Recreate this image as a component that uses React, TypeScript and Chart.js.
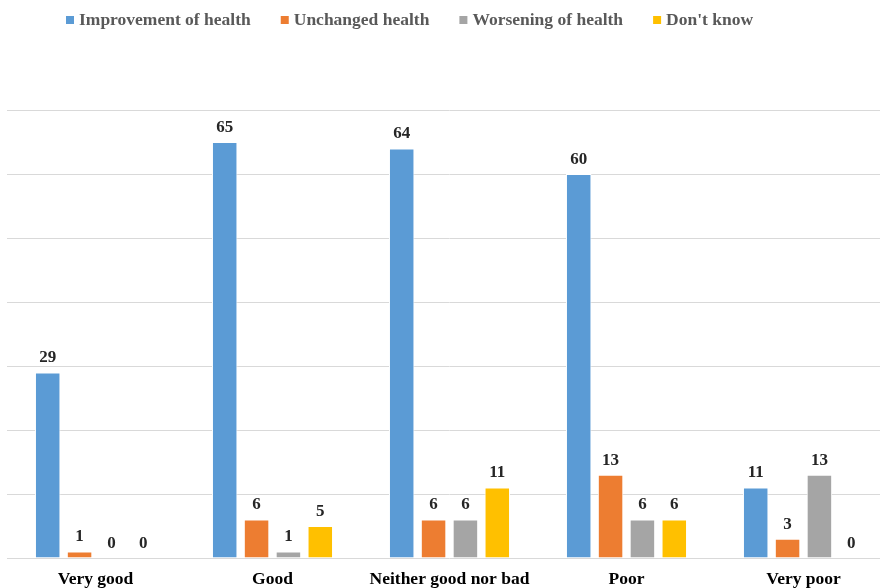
import React, { useEffect, useRef } from "react";
import { Chart, registerables } from "chart.js";

Chart.register(...registerables);

const categories = ["Very good", "Good", "Neither good nor bad", "Poor", "Very poor"];
const seriesNames = ["Improvement of health", "Unchanged health", "Worsening of health", "Don't know"];
const improvement = [29, 65, 64, 60, 11];
const unchanged = [1, 6, 6, 13, 3];
const worsening = [0, 1, 6, 6, 13];
const dontKnow = [0, 5, 11, 6, 0];
const colors = ["#5B9BD5", "#ED7D31", "#A5A5A5", "#FFC000"];

const FONT = "'Liberation Serif', 'Times New Roman', serif";

const labelPlugin = {
  id: "valueLabels",
  afterDatasetsDraw(chart: any) {
    const ctx = chart.ctx;
    ctx.save();
    ctx.font = `bold 17px ${FONT}`;
    ctx.fillStyle = "#262626";
    ctx.textAlign = "center";
    ctx.textBaseline = "bottom";
    chart.data.datasets.forEach((ds: any, i: number) => {
      const meta = chart.getDatasetMeta(i);
      meta.data.forEach((bar: any, j: number) => {
        ctx.fillText(String(ds.data[j]), bar.x, bar.y - 6);
      });
    });
    ctx.restore();
  },
};

const legendPlugin = {
  id: "customLegend",
  afterDraw(chart: any) {
    const ctx = chart.ctx;
    ctx.save();
    ctx.font = `bold 17.5px ${FONT}`;
    ctx.textBaseline = "middle";
    ctx.textAlign = "left";
    let x = 66;
    const y = 20;
    chart.data.datasets.forEach((ds: any) => {
      ctx.fillStyle = ds.backgroundColor;
      ctx.fillRect(x, y - 4, 8, 8);
      x += 13;
      ctx.fillStyle = "#595959";
      ctx.fillText(ds.label, x, y);
      x += ctx.measureText(ds.label).width + 30;
    });
    ctx.restore();
  },
};

export default function App() {
  const ref = useRef<HTMLCanvasElement>(null);
  useEffect(() => {
    if (!ref.current) return;
    const series = [improvement, unchanged, worsening, dontKnow];
    const chart = new Chart(ref.current, {
      type: "bar",
      data: {
        labels: categories,
        datasets: series.map((d, i) => ({
          label: seriesNames[i],
          data: d,
          backgroundColor: colors[i],
          borderColor: "#ffffff",
          borderWidth: 1,
          barPercentage: 0.8,
          categoryPercentage: 0.72,
        })),
      },
      options: {
        responsive: false,
        animation: false,
        layout: { padding: { top: 110, left: 7, right: 8, bottom: -13 } },
        plugins: { legend: { display: false }, tooltip: { enabled: false } },
        scales: {
          x: {
            grid: { display: false, drawTicks: false },
            border: { display: false },
            ticks: {
              color: "#000000",
              font: { family: FONT, size: 17.5, weight: "bold" },
              padding: 11,
              maxRotation: 0,
              autoSkip: false,
            },
          },
          y: {
            min: 0,
            max: 70,
            ticks: { display: false, stepSize: 10 },
            grid: { color: "#d9d9d9", drawTicks: false, lineWidth: 1 },
            border: { display: false },
          },
        },
      },
      plugins: [labelPlugin, legendPlugin],
    });
    return () => chart.destroy();
  }, []);
  return (
    <div style={{ position: "fixed", top: 0, left: 0, width: 880, height: 588, overflow: "hidden", background: "#fff" }}>
      <canvas ref={ref} width={900} height={588} style={{ display: "block", width: 900, height: 588 }} />
    </div>
  );
}
